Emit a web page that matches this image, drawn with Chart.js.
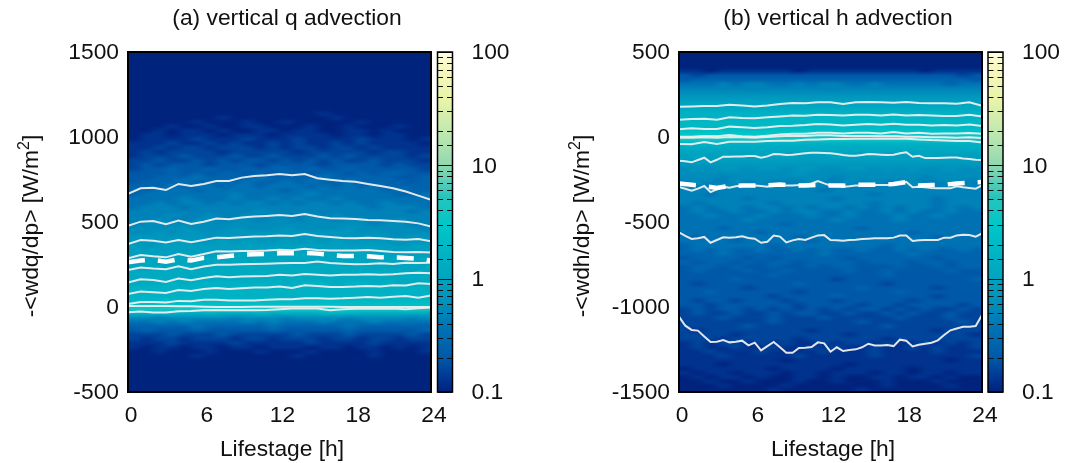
<!DOCTYPE html>
<html>
<head>
<meta charset="utf-8">
<title>Vertical advection</title>
<script src="https://cdn.jsdelivr.net/npm/chart.js@4"></script>
<style>
  html, body { margin: 0; padding: 0; background: #fff; }
  body { width: 1066px; height: 463px; position: relative; overflow: hidden; }
  canvas { position: absolute; top: 0; }
</style>
</head>
<body>
<canvas id="panelA" width="470" height="463" style="left:0"></canvas>
<canvas id="barA" width="100" height="463" style="left:430px"></canvas>
<canvas id="panelB" width="470" height="463" style="left:551px"></canvas>
<canvas id="barB" width="85" height="463" style="left:981px"></canvas>
<script>
const hours = [0,1,2,3,4,5,6,7,8,9,10,11,12,13,14,15,16,17,18,19,20,21,22,23,24];
const halfHours = [0,0.5,1,1.5,2,2.5,3,3.5,4,4.5,5,5.5,6,6.5,7,7.5,8,8.5,9,9.5,10,10.5,11,11.5,12,12.5,13,13.5,14,14.5,15,15.5,16,16.5,17,17.5,18,18.5,19,19.5,20,20.5,21,21.5,22,22.5,23,23.5,24];
const hourTicks = [0,6,12,18,24];
const colorbarLabels = [0.1,1,10,100];

// panel a: percentile lines of -<wdq/dp>, hourly
const qMean = [263,273,277,267,281,273,289,292,300,308,310,312,316,316,318,314,306,300,300,298,292,292,288,283,273];
const qLines = [
  [665,698,702,688,724,712,724,741,741,761,771,775,782,775,782,757,749,741,737,724,712,698,679,655,630],
  [477,502,506,487,508,488,502,520,516,526,532,536,541,536,547,532,522,520,518,512,510,506,502,492,473],
  [371,394,389,379,394,381,394,408,406,410,414,416,420,418,430,418,412,406,404,408,404,398,396,400,387],
  [287,306,298,292,312,296,312,328,326,330,330,332,337,334,343,336,332,332,332,336,330,324,322,324,320],
  [218,232,226,222,240,222,238,249,249,251,253,255,257,259,259,267,259,255,251,253,257,253,260,259,261],
  [144,163,159,147,167,157,171,181,175,179,181,183,189,185,194,189,185,189,190,192,189,192,198,202,198],
  [77,91,87,83,100,94,106,112,106,110,114,114,120,112,128,124,118,118,120,124,120,128,126,140,136],
  [18,30,30,26,36,34,42,42,38,38,38,42,45,45,51,51,49,51,55,59,55,61,65,55,67],
  [6,6,6,6,4,4,2,0,0,0,2,2,2,2,2,2,2,0,0,0,0,0,0,0,0],
  [-31,-27,-33,-33,-25,-23,-19,-17,-19,-19,-19,-17,-13,-9,-9,-9,-19,-13,-11,-9,-11,-9,-13,-7,-3]
];

// panel b: percentile lines of -<wdh/dp>, hourly for the upper ones
const hMean = [-273,-281,-288,-300,-288,-286,-286,-285,-279,-285,-285,-281,-285,-286,-281,-281,-281,-277,-265,-285,-283,-281,-273,-269,-265];
const hLines = [
  [178,180,182,182,190,186,180,186,194,200,198,204,204,194,204,206,204,202,206,200,198,198,196,204,184],
  [102,106,108,102,116,112,110,116,121,127,125,131,129,127,131,131,127,133,127,129,127,123,123,131,121],
  [45,51,47,47,61,57,53,57,65,66,70,76,74,68,72,76,72,78,72,72,68,70,68,74,65],
  [2,2,6,4,12,4,2,8,14,19,19,25,25,21,25,25,21,29,21,25,19,21,21,23,19],
  [-4,-4,-2,-4,0,-2,-4,0,4,8,6,10,10,6,6,6,4,6,2,2,-2,-2,-4,-2,-6],
  [-41,-43,-30,-41,-28,-28,-28,-24,-22,-22,-16,-14,-12,-12,-10,-10,-10,-10,-10,-14,-18,-20,-24,-24,-32]
];
// half hourly, these wiggle too much for hourly points
const hLinesFine = [
  [-139,-143,-149,-135,-122,-149,-134,-116,-116,-114,-114,-112,-112,-122,-114,-100,-102,-106,-104,-100,-96,-92,-92,-94,-96,-100,-106,-110,-110,-106,-100,-102,-104,-106,-104,-96,-90,-116,-110,-124,-124,-124,-122,-120,-120,-126,-130,-134,-136],
  [-294,-304,-316,-304,-288,-324,-308,-292,-298,-290,-286,-286,-286,-288,-292,-277,-279,-286,-285,-283,-279,-273,-259,-273,-286,-288,-292,-290,-286,-286,-285,-283,-283,-283,-279,-269,-263,-296,-292,-296,-300,-302,-302,-302,-290,-296,-300,-304,-285],
  [-561,-582,-600,-596,-588,-622,-606,-590,-592,-590,-584,-594,-598,-622,-616,-580,-586,-620,-608,-600,-606,-592,-579,-577,-606,-608,-610,-606,-604,-600,-598,-596,-596,-596,-592,-580,-580,-612,-608,-606,-606,-606,-592,-592,-579,-575,-577,-586,-567],
  [-1057,-1110,-1135,-1139,-1173,-1206,-1204,-1194,-1208,-1204,-1198,-1226,-1210,-1255,-1230,-1206,-1237,-1269,-1269,-1241,-1239,-1236,-1208,-1214,-1263,-1237,-1259,-1253,-1249,-1237,-1216,-1226,-1226,-1224,-1230,-1192,-1198,-1232,-1222,-1216,-1210,-1196,-1165,-1137,-1126,-1116,-1116,-1112,-1047]
];

// density per cell, one letter per hour, one row per 25 W/m2 from the top of the axis
const densityLevels = { a:0.1, b:0.126, c:0.158, d:0.2, e:0.26, f:0.36, g:0.47, h:0.58, i:0.72, j:0.88, k:1.08, l:1.3, m:1.6, n:2, o:2.5, p:3.2, q:4 };
const binHeight = 25;
const qRows = [
  'aaaaaaaaaaaaaaaaaaaaaaaa','aaaaaaaaaaaaaaaaaaaaaaaa','aaaaaaaaaaaaaaaaaaaaaaaa','aaaaaaaaaaaaaaaaaaaaaaaa',
  'aaaaaaaaaaaaaaaaaaaaaaaa','aaaaaaaaaaaaaaaaaaaaaaaa','aaaaaaaaaaaaaaaaaaaaaaaa','aaaaaaaaaaaaaaaaaaaaaaaa',
  'aaaaaaaaaaaaaaaaaaaaaaaa','aaaaaaaaaaaaaaaaaaaaaaaa','aaaaaaaaaaaaaaaaaaaaaaaa','aaaaaaaaaaaaaaaaaaaaaaaa',
  'aaaaaaaaaaaaaaaaaaaaaaaa','aaaaaaaaaaaaaaaaaaaaaaaa',
  'aaaaaaaaaaaaaaabaaaaaaaa','aaaaaaabaaaaaaaabaaaaaaa','aaaaabaaabaabaaaaabaaaaa','aaabaabaabbaaabaabaaabaa',
  'aababbabaabbabbaabbabaaa','abbabbbabbbabbbbabbabbaa','abbbbcbbbcbbbcbbbbcbbbab','bbbcbbcbcbbcbcbbcbcbbbba',
  'bbcbccbcccbcbccbccbcbbbb','bcbccccbcccccbcccccbccbb','bcccdcccdccdcccdcdccccbc','ccdccdcdcddcdcdcdccdcccb',
  'cdcdddcdddcddddcddddcdcc','cddeddeddedeededdedddddc','dddededeededeedeededeedd','ddeeefeeeefeeeefeeeeedde',
  'deeefeefefeefefeefeeeede','eeefeffeffefffefefefeeee','eefffeffffffefffffffefee','efffffffgfffffgffffffeef',
  'ffffgfffgffgfgffgfffffff','ffgfggfgfggfgfggfgffgfff','fgggfggggggggggggggfgggf','gggggggggghgggggggggggfg',
  'ggghgghgghghgghghggggggg','gghgghhghhghhghhghhgghgg','ghhhhhhhhhhhhhhhhhhghhgg','hhhhihhhihhhihhhhihhhhhg',
  'hhihiihiiiiiiiiiiihihhhh','iiiiiiiiiiiiiiiiiiiiihii','iiiijiijijiijijijiiiiiii','jijjjjjjjjjjjjjjjjjjjijj',
  'jjjjjjjjjkjjjkjjjjjjjjjj','jjjjkjjkkkkkkkkkkkkjkjjj','kkkkkkkkkkkkkkkkkkkkkkkk','kkkkkkkkkkkkkkkkkkkkkkkk',
  'kkkklkklkllllllllklkkkkk','lkllllllllllllllllllllkl','llllllllllllllllllllllll','llllllllllllllllllllllll',
  'lllmlmmmmmmmlmmmlmmlmlll','mmmmmmmmmmmmmmmmmmmmmmmm','mmmmmmmmmmmmmmmmmmmmmmmm','mmmmmmmmmmmmmmmmmmmmmmmm',
  'nnnnnnnnnnnnnnnnnnnnnnnn','oooooooooooooooooooooooo','qqqqqqqqqqqqqqqqqqqqqqqq','mmmmllmlllmllllmmmlllllk',
  'hhghhhhhghhhghhhhghhhhgh','ffgfgffffgfgfffgfffgffff','eeeeefeeeeefeeeeefeeeeee','dedddedddddedddddeddddde',
  'cccdcccdcccccdcccdccccdc','cbccbcccbccbcccbccbccbcc','bbbcbbbbcbbbbbcbbbbcbbbb','babbabbabbabbbabbabbabab',
  'aabaaabaaabaaabaaaabaaab','aaaaabaaaaaaabaaaaabaaaa','aaaaaaaaaaaaaaaaaaaaaaaa','aaaaaaaaaaaaaaaaaaaaaaaa',
  'aaaaaaaaaaaaaaaaaaaaaaaa','aaaaaaaaaaaaaaaaaaaaaaaa','aaaaaaaaaaaaaaaaaaaaaaaa','aaaaaaaaaaaaaaaaaaaaaaaa',
  'aaaaaaaaaaaaaaaaaaaaaaaa','aaaaaaaaaaaaaaaaaaaaaaaa'
];
const hRows = [
  'aaaaaaaaaaaaaaaaaaaaaaaa','aaaaaaaaaaaaaaaaaaaaaaaa','aaaaaaaaaaaaaaaaaaaaaaaa','aaaaaaaaaaaaaaaaaaaaaaaa',
  'bbabbbbbbabbbbbbbbbabbbb','dcddddddddddddddddddddcd','deeeeeeeeeeeeeeeeeeeeeed','fffgfggffgfggffgfffffeff',
  'gggggggggggggggggggggggg','hhhhhhhhhhhhhhhhhhhhhhhh','iiiiiiiiiiiiiiiiiiiiiiii','jjjjjjjjjjjjjjjjjjjjjjjj',
  'kkkkkkkkkkkkkkkkkkkkkkkk','llllllllllllllllllllllll','mmmmmmmmmmmmmmmmmmmmmmmm','mmmmnmmnnnnnnnnnnnnmnmmm',
  'nnnnnnnnnnnnnnnnnnnnnnnn','nnnnnnnnnnnnnnnnnnnnnnnn','oooooooooooooooooooooooo','pppppppppppppppppppppppp',
  'qqqqqqqqqqqqqqqqqqqqqqqq','mmmmmmmmmmmmmmmmmmmmmmmm','llllllllllllllllllllllll','kkkkkkkkkkkkkkkkkkkkkkkk',
  'jkjkjjkjkjjjkjjkjjjkjjjj','jjjjjjjjjjjjjjjjjjjjjjjj','iiiiiiiiiiiiiiiiiiiiiiii','hihiihiihiihhiihihihhihh',
  'hhhhhhhhhihhhhhhhhhhhhhh','hhhghhhhhhhhghhhhhhghhhh','ghgghghggghgghghgghgghgg','ggghgggggghggggggghggggg',
  'gggggggggggfgggggggggggg','ggfggggggggggggfgggggggg','gggggfggggggfgggggggfggg','gfgggggfgggggggfggggfggg',
  'fgfggfggfgfggfgfgfggfgfg','fgffgffgfggffgffgfgffgff','ffgfffgfffgffgfffgffgfff','fffffgffffffgffffgffffff',
  'ffffffffefffffffffffffff','fffeffffffffffefffffffff','ffffffefffffffffffefffff','fefffffffeffffffffffefff',
  'ffffefffffefffffffffffff','effffffeffffffffefffffff','efefeefeefefeefeefefeefe','eeefeeeeeeefeeeeeefeeeee',
  'deeeededeeeeedeeeeeedeee','edeededeedeeeedeeedeedee','deededdeddedeedddeddedee','dedddeddeddddeddeddddedd',
  'dddddddeddddddddeddddddd','ddddedddddddcdddddddddde','dcdddddddeddddddcddddddd','dddddcddddddddedddddcddd',
  'ddeddddddcdddddddedddddd','dddddddcddddedddddddcddd','dcddcdddcdddcdddddcddddd','ddcddddddcddddcddcddddcd',
  'cdcddcdcdcdcdcddcdcdccdc','cdccdccdcddccdccdcdccdcc','cccdcccdcccdcccccdcccdcc','cccccccdccccccdcccccccdc',
  'cccccdccccccccccdccccccc','cbccccccccbcccccccccbccc','ccccbccccccccbcccccccccb','cccbcccccbccccccbccccccc',
  'bcbccbcbcbbcbccbcbbcbcbc','bcbbcbbcbbcbcbbcbbcbcbbc','bbcbbbcbbbbcbbbcbbbbcbbb','bbbcbbbbbcbbbbbcbbbbbbbc',
  'bbbbbbbbabbbbbbbbbbbbabb','bbbabbbbbbbbbabbbbbbbbbb','abbbbbbabbbbabbbbbabbbbb','babbabbbabbabbbabbabbabb',
  'ababbabaabbabaabbabbabaa','aabaabaaabaabaaabaaabaaa','aaabaaaabaaaaaaabaaaabaa','aaaaaaabaaaaaabaaaaaaaaa'
];
const qRangeTop = 1500;
const hRangeTop = 500;

// stops: density, colour
const cbValues = [0.1,0.127,0.2,0.35,0.61,1.04,1.69,3,5.3,10,19.5,38,75,100];
const cbColors = ['#00237e','#00338f','#0058a8','#0070b4','#0090bc','#00a4c0','#00b4c4','#00c6c8','#28c4bc','#90d8b0','#c0e8b0','#e8f4a8','#f8f8c0','#ffffe8'];

Chart.defaults.font.family = '"Liberation Sans", Arial, sans-serif';
Chart.defaults.color = '#111';
Chart.defaults.animation = false;

const labelFont = 22.8;

function hexToRgb(hex) {
  return [1,3,5].map(i => parseInt(hex.slice(i, i + 2), 16));
}

function colorFor(v) {
  const lv = Math.log10(Math.min(Math.max(v, cbValues[0]), 100));
  let i = 0;
  while (i < cbValues.length - 2 && lv > Math.log10(cbValues[i + 1])) i++;
  const t = (lv - Math.log10(cbValues[i])) / (Math.log10(cbValues[i + 1]) - Math.log10(cbValues[i]));
  const a = hexToRgb(cbColors[i]), b = hexToRgb(cbColors[i + 1]);
  const c = a.map((x, k) => Math.round(x + (b[k] - x) * t));
  return `rgb(${c[0]},${c[1]},${c[2]})`;
}

// cells go to a small canvas first and get scaled up, the source figure is soft too
const heatmapPlugin = {
  id: 'heatmap',
  beforeDatasetsDraw(chart, args, opts) {
    const { ctx, scales: { x, y } } = chart;
    const cols = opts.rows[0].length;
    const tiles = document.createElement('canvas');
    tiles.width = cols;
    tiles.height = opts.rows.length;
    const tctx = tiles.getContext('2d');
    opts.rows.forEach((row, r) => {
      for (let c = 0; c < cols; c++) {
        tctx.fillStyle = colorFor(densityLevels[row[c]]);
        tctx.fillRect(c, r, 1, 1);
      }
    });
    const left = x.getPixelForValue(0);
    const right = x.getPixelForValue(cols);
    const top = y.getPixelForValue(opts.rangeTop);
    const bottom = y.getPixelForValue(opts.rangeTop - opts.rows.length * binHeight);
    ctx.save();
    ctx.imageSmoothingEnabled = true;
    ctx.imageSmoothingQuality = 'high';
    ctx.drawImage(tiles, left, top, right - left, bottom - top);
    ctx.restore();
  }
};

const frameAndTextPlugin = {
  id: 'frameAndText',
  afterDatasetsDraw(chart, args, opts) {
    const { ctx, chartArea: a } = chart;
    ctx.save();
    ctx.strokeStyle = '#000';
    ctx.lineWidth = 2;
    ctx.strokeRect(a.left, a.top, a.right - a.left, a.bottom - a.top);

    ctx.fillStyle = '#111';
    ctx.textBaseline = 'alphabetic';
    ctx.textAlign = 'center';
    ctx.font = `${labelFont}px "Liberation Sans"`;
    ctx.fillText(opts.title, opts.titleX, 25);
    ctx.fillText(opts.xTitle, opts.xTitleX, 456);

    // y title with the raised 2
    ctx.translate(38, opts.yTitleY);
    ctx.rotate(-Math.PI / 2);
    ctx.textAlign = 'left';
    const w1 = ctx.measureText(opts.yTitle).width;
    const w3 = ctx.measureText(']').width;
    ctx.font = `${labelFont * 0.7}px "Liberation Sans"`;
    const w2 = ctx.measureText('2').width;
    const start = -(w1 + w2 + w3) / 2;
    ctx.fillText('2', start + w1, -9);
    ctx.font = `${labelFont}px "Liberation Sans"`;
    ctx.fillText(opts.yTitle, start, 0);
    ctx.fillText(']', start + w1 + w2, 0);
    ctx.restore();
  }
};

function makePanel(id, cfg) {
  const datasets = [{
    data: cfg.mean.map((v, i) => ({ x: hours[i], y: v })),
    borderColor: '#ffffff', borderWidth: 4.5, borderDash: [17, 13], pointRadius: 0, tension: 0
  }];
  cfg.lines.forEach(line => datasets.push({
    data: line.map((v, i) => ({ x: hours[i], y: v })),
    borderColor: 'rgba(238,238,238,0.95)', borderWidth: 2, pointRadius: 0, tension: 0
  }));
  (cfg.fineLines || []).forEach(line => datasets.push({
    data: line.map((v, i) => ({ x: halfHours[i], y: v })),
    borderColor: 'rgba(238,238,238,0.95)', borderWidth: 2, pointRadius: 0, tension: 0
  }));

  return new Chart(document.getElementById(id), {
    type: 'line',
    data: { datasets },
    plugins: [heatmapPlugin, frameAndTextPlugin],
    options: {
      responsive: false,
      devicePixelRatio: 1,
      layout: { autoPadding: false, padding: { top: 52, right: 39, left: 0, bottom: 0 } },
      plugins: {
        legend: { display: false },
        tooltip: { enabled: false },
        heatmap: { rows: cfg.rows, rangeTop: cfg.rangeTop },
        frameAndText: cfg.text
      },
      scales: {
        x: {
          type: 'linear', min: 0, max: 24,
          grid: { display: false, drawTicks: false, tickLength: 0 }, border: { display: false },
          afterFit: s => { s.height = 71; },
          afterBuildTicks: s => { s.ticks = hourTicks.map(v => ({ value: v })); },
          ticks: { maxRotation: 0, autoSkip: false, padding: 10, labelOffset: 3, font: { size: labelFont }, callback: v => String(v) }
        },
        y: {
          min: cfg.min, max: cfg.max,
          grid: { display: false, drawTicks: false, tickLength: 0 }, border: { display: false },
          afterFit: s => { s.width = 128; },
          ticks: { stepSize: 500, padding: 9, labelOffset: 1, font: { size: labelFont }, callback: v => String(v) }
        }
      }
    }
  });
}

const colorbarPlugin = {
  id: 'colorbar',
  beforeDatasetsDraw(chart) {
    const { ctx, chartArea: a, scales: { y } } = chart;
    for (let p = Math.floor(a.top); p < a.bottom; p++) {
      ctx.fillStyle = colorFor(y.getValueForPixel(p + 0.5));
      ctx.fillRect(a.left, p, a.right - a.left, 1);
    }
    ctx.strokeStyle = '#111';
    y.ticks.forEach(t => {
      const py = Math.round(y.getPixelForValue(t.value)) + 0.5;
      const isDecade = colorbarLabels.some(l => Math.abs(l - t.value) < 1e-6);
      ctx.lineWidth = 1;
      ctx.beginPath();
      if (isDecade) {
        ctx.moveTo(a.left, py); ctx.lineTo(a.right, py);
      } else {
        ctx.moveTo(a.left, py); ctx.lineTo(a.left + 5.5, py);
        ctx.moveTo(a.right - 5.5, py); ctx.lineTo(a.right, py);
      }
      ctx.stroke();
    });
    ctx.strokeStyle = '#000';
    ctx.lineWidth = 1.5;
    ctx.strokeRect(a.left, a.top, a.right - a.left, a.bottom - a.top);
  }
};

function makeColorbar(id, paddingLeft) {
  return new Chart(document.getElementById(id), {
    type: 'line',
    data: { datasets: [] },
    plugins: [colorbarPlugin],
    options: {
      responsive: false,
      devicePixelRatio: 1,
      layout: { autoPadding: false, padding: { top: 52, bottom: 71, left: paddingLeft, right: 0 } },
      plugins: { legend: { display: false }, tooltip: { enabled: false } },
      scales: {
        x: { display: false },
        y: {
          type: 'logarithmic', position: 'right', min: 0.1, max: 100,
          grid: { display: false, drawTicks: false, tickLength: 0 }, border: { display: false },
          afterFit: s => { s.width = s.chart.width - paddingLeft - 15; },
          ticks: {
            autoSkip: false, padding: 19, labelOffset: 1, font: { size: labelFont },
            callback: v => {
              const hit = colorbarLabels.find(l => Math.abs(l - v) < 1e-6);
              return hit === undefined ? '' : String(hit);
            }
          }
        }
      }
    }
  });
}

makePanel('panelA', {
  mean: qMean, lines: qLines, rows: qRows, rangeTop: qRangeTop, min: -500, max: 1500,
  text: { title: '(a) vertical q advection', titleX: 287, xTitle: 'Lifestage [h]', xTitleX: 282, yTitle: '-<wdq/dp> [W/m', yTitleY: 226 }
});
makePanel('panelB', {
  mean: hMean, lines: hLines, fineLines: hLinesFine, rows: hRows, rangeTop: hRangeTop, min: -1500, max: 500,
  text: { title: '(b) vertical h advection', titleX: 287, xTitle: 'Lifestage [h]', xTitleX: 282, yTitle: '-<wdh/dp> [W/m', yTitleY: 226 }
});
makeColorbar('barA', 7.5);
makeColorbar('barB', 7);
</script>
</body>
</html>
